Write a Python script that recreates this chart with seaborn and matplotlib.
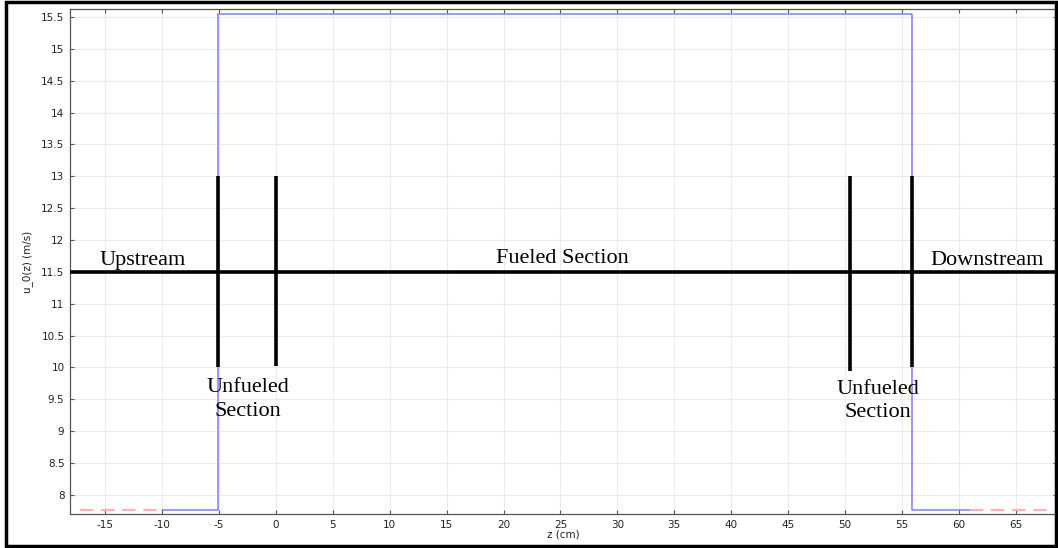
import numpy as np
import pandas as pd
import matplotlib
matplotlib.use('Agg')
import matplotlib.pyplot as plt
import seaborn as sns
from matplotlib.patches import Rectangle

# velocity profile (step)
z_cm = [-10, -5.1, -5.1, 55.9, 55.9, 61]
u0 = [7.765, 7.765, 15.55, 15.55, 7.765, 7.765]

# dashed extensions outside domain
z_up = [-17.2, -10]
z_down = [61, 68.2]
u_ext = [7.765, 7.765]

# section markers
marker_z = [-5.1, 0, 50.4, 55.9]
marker_lo = [10.0, 10.02, 9.95, 10.0]
marker_hi = [13, 13, 13, 13]
divider_u = 11.5

labels = ['Upstream', 'Fueled Section', 'Downstream', 'Unfueled\nSection', 'Unfueled\nSection']
label_z = [-11.7, 25.2, 62.5, -2.5, 52.9]
label_u = [11.53, 11.56, 11.53, 9.84, 9.81]

sns.set_style('ticks')
plt.rcParams['font.family'] = ['DejaVu Sans']
plt.rcParams['axes.unicode_minus'] = False

fig = plt.figure(figsize=(10.58, 5.48), dpi=100)
ax = fig.add_axes([0.0662, 0.062, 0.9325, 0.9216])

df = pd.DataFrame({'z': z_cm, 'u': u0})
sns.lineplot(data=df, x='z', y='u', sort=False, estimator=None, color='#7070ff',
             lw=1.1, alpha=0.9, ax=ax)
sns.lineplot(x=z_up, y=u_ext, estimator=None, color='#ffb3b3', lw=1.6, ax=ax)
sns.lineplot(x=z_down, y=u_ext, estimator=None, color='#ffb3b3', lw=1.6, ax=ax)
for l in ax.lines[1:]:
    l.set_dashes((6, 3.5))

ax.axhline(divider_u, color='black', lw=2.6, zorder=5)
ax.vlines(marker_z, marker_lo, marker_hi, color='black', lw=2.6, zorder=5)

for t, x, y in zip(labels, label_z, label_u):
    ax.text(x, y, t, family='Liberation Serif', fontsize=16, ha='center', color='black',
            va='bottom' if '\n' not in t else 'top', linespacing=1.35, zorder=6)

ax.set_xlim(-18.1, 68.6)
ax.set_ylim(7.7, 15.625)
ax.set_xticks(np.arange(-15, 70, 5))
ax.set_yticks(np.arange(8, 15.6, 0.5))
ax.set_yticklabels([('%g' % v) for v in np.arange(8, 15.6, 0.5)])
ax.grid(True, color='#ebebeb', lw=0.8)
ax.set_axisbelow(True)
ax.tick_params(direction='in', top=True, right=True, labelsize=7.5, length=3,
               color='#555555', labelcolor='#222222', pad=4)
for s in ax.spines.values():
    s.set_color('#555555')
    s.set_linewidth(0.9)
ax.set_xlabel('z (cm)', fontsize=7.5, labelpad=0, color='#222222')
ax.set_ylabel('u_0(z) (m/s)', fontsize=7.5, labelpad=6, color='#222222')

fig.patches.append(Rectangle((0.006, 0.003), 0.992, 0.993, transform=fig.transFigure,
                             fill=False, edgecolor='black', lw=2.5, zorder=10))

fig.savefig('out.png', dpi=100)
